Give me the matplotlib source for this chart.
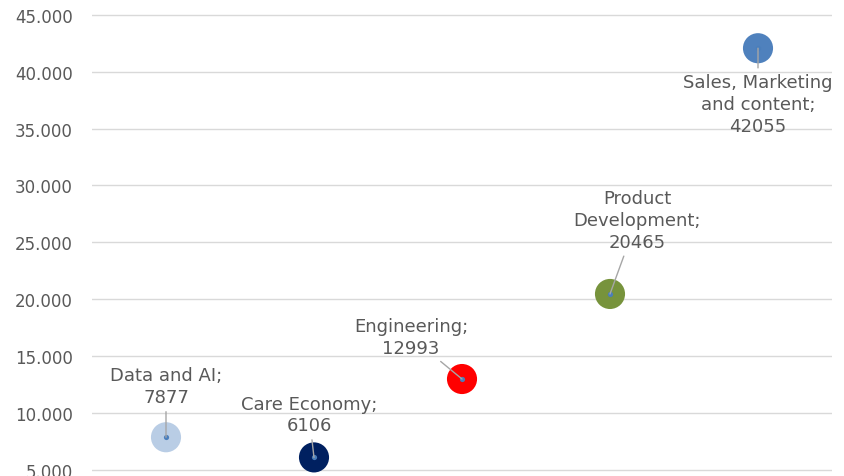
import matplotlib
matplotlib.use("Agg")
import matplotlib.pyplot as plt
from matplotlib.ticker import FuncFormatter, MultipleLocator

categories = ["Data and AI", "Care Economy", "Engineering", "Product\nDevelopment", "Sales, Marketing\nand content"]
values = [7877, 6106, 12993, 20465, 42055]
colors = ["#b9cde5", "#002060", "#ff0000", "#77933c", "#4f81bd"]
# label offsets in pixels (dx, dy) relative to bubble centre
offsets = [(0, 51), (-5, 43), (-51, 42), (27, 74), (0, -56)]

plt.rcParams["font.family"] = ["DejaVu Sans"]
fig = plt.figure(figsize=(8.45, 4.77), dpi=100)
ax = fig.add_axes([92 / 845, 0, (832 - 92) / 845, 1])

xs = list(range(1, len(values) + 1))
ax.scatter(xs, values, s=470, c=colors, zorder=3, linewidths=0)
ax.scatter(xs, values, s=14, c="#4a7ebb", zorder=4, linewidths=0)

txtcol = "#595959"
for x, v, cat, (dx, dy) in zip(xs, values, categories, offsets):
    ax.annotate(f"{cat};\n{v}", xy=(x, v), xytext=(dx * 0.72, dy * 0.72),
                textcoords="offset points", ha="center", va="center",
                multialignment="center", fontsize=13, color=txtcol,
                linespacing=1.27, zorder=5,
                arrowprops=dict(arrowstyle="-", color="#a6a6a6", lw=1,
                                shrinkA=2, shrinkB=0))

ax.set_xlim(0.5, 5.5)
px_per_unit = 56.9 / 5000
ax.set_ylim(5000 - 6 / px_per_unit, 45000 + 15.7 / px_per_unit)
ax.yaxis.set_major_locator(MultipleLocator(5000))
ax.yaxis.set_major_formatter(FuncFormatter(lambda v, p: f"{int(round(v)):,}".replace(",", ".")))
ax.set_xticks([])
ax.tick_params(axis="y", length=0, pad=14, labelsize=12, labelcolor=txtcol)
ax.grid(axis="y", color="#d9d9d9", lw=1)
ax.set_axisbelow(True)
for s in ax.spines.values():
    s.set_visible(False)

fig.savefig("out.png", dpi=100)
